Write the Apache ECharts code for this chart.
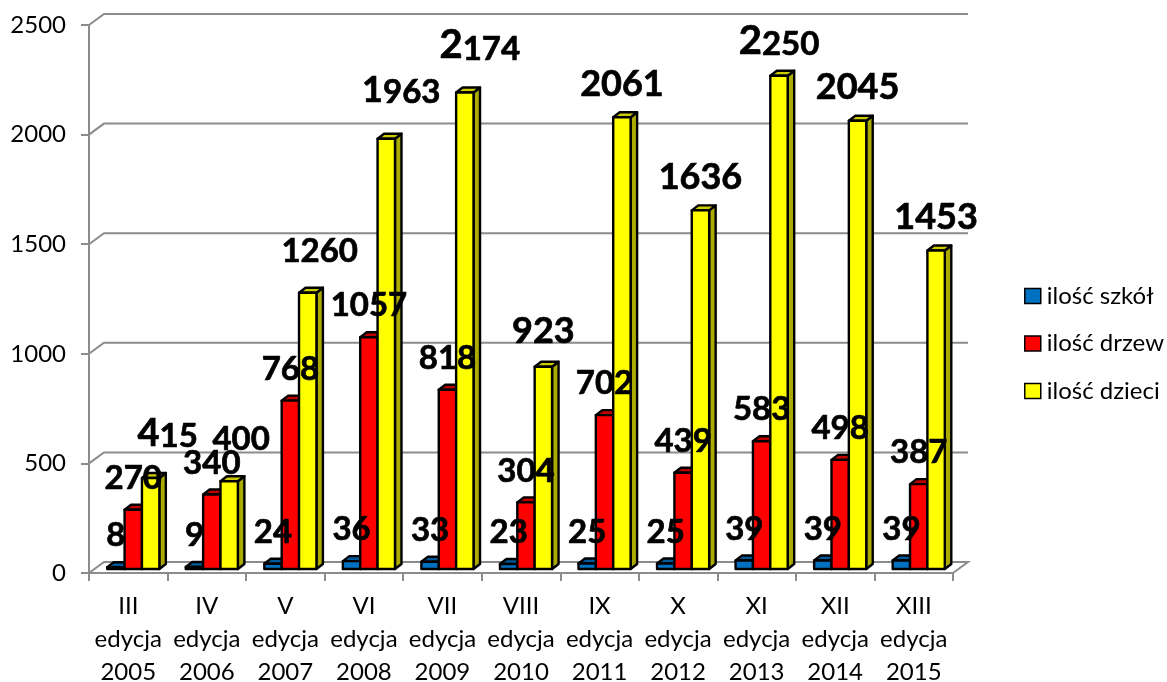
<!DOCTYPE html>
<html>
<head>
<meta charset="utf-8">
<style>html,body{margin:0;padding:0;background:#fff}#c{width:1167px;height:682px}</style>
<script src="https://cdn.jsdelivr.net/npm/echarts@6/dist/echarts.min.js"></script>
</head>
<body>
<div id="c"></div>
<script>
const editions = ['III','IV','V','VI','VII','VIII','IX','X','XI','XII','XIII'];
const years = ['2005','2006','2007','2008','2009','2010','2011','2012','2013','2014','2015'];
const schools = [8,9,24,36,33,23,25,25,39,39,39];
const trees = [270,340,768,1057,818,304,702,439,583,498,387];
const children = [415,400,1260,1963,2174,923,2061,1636,2250,2045,1453];
const yTicks = [0,500,1000,1500,2000,2500];
// label placement tweaks for the tallest series, in px from the default spot
const childLabelShiftX = [17,12,12,15,15,0,0,0,0,0,0];
const childLabelShiftY = [-10,-10,-10,-15,-12,-2,0,0,0,0,0];
// label sizes for the tallest series, and first digits drawn larger in the original
const childLabelSize = [33,33,33,33,33,36,36,36,33,36,36];
const childLabelLead = [38,0,0,36,40,0,0,0,40,0,0];

const FONT = 'Lato, Carlito, "Noto Sans", sans-serif';
const categories = editions.map((e,i)=>e+'\nedycja\n'+years[i]);
const GRAY = '#8c8c8c';
const DX = 6.5, DY = 5;      // bar depth
const WALLX = 15, WALLY = 11; // wall depth
const BAR_BASE = -4;         // bars stand mid-floor

function shade(points, fill){
  return {type:'polygon', shape:{points}, z2:5,
    style:{fill, stroke:'#000', lineWidth:2.4, lineJoin:'round'}};
}
function barSeries(name, values, slot, front, top, side, shiftX, shiftY, sizes, lead){
  return {
    name, type:'custom', coordinateSystem:'cartesian2d',
    itemStyle:{color:front, borderColor:'#000', borderWidth:1.5},
    data: values.map((v,i)=>[i,v]),
    encode:{x:0,y:1},
    renderItem(params, api){
      const i = api.value(0), v = api.value(1);
      const band = api.size([1,0])[0];
      const w = band*0.2215;
      const p = api.coord([i,v]), o = api.coord([i,0]);
      const x0 = p[0]+slot*band, x1 = x0+w;
      const yT = p[1]+BAR_BASE, yB = o[1]+BAR_BASE;
      const sx = shiftX? shiftX[i]:0, sy = shiftY? shiftY[i]:0;
      const size = sizes? sizes[i]:33;
      const big = lead? lead[i]:0;
      const s = String(v);
      const text = big ? '{b|'+s[0]+'}{n|'+s.slice(1)+'}' : '{n|'+s+'}';
      const base = {fontFamily:FONT, fontWeight:'bold', fill:'#000', verticalAlign:'bottom',
        stroke:'#000', lineWidth:0.7};
      return {type:'group', children:[
        shade([[x1,yB],[x1+DX,yB-DY],[x1+DX,yT-DY],[x1,yT]], side),
        shade([[x0,yT],[x0+DX,yT-DY],[x1+DX,yT-DY],[x1,yT]], top),
        shade([[x0,yB],[x1,yB],[x1,yT],[x0,yT]], front),
        {type:'text', z2:50, style:{
          text, x:(x0+x1)/2+sx, y:yT-37+sy, align:'center', verticalAlign:'middle',
          rich:{n:Object.assign({fontSize:size,lineHeight:44},base),
                b:Object.assign({fontSize:big||size,lineHeight:44},base)}
        }}
      ]};
    }
  };
}
const walls = {
  type:'custom', coordinateSystem:'cartesian2d', silent:true, z:1,
  data: yTicks.map(v=>[0,v]), encode:{x:0,y:1},
  renderItem(params, api){
    const c = params.coordSys, y = api.coord([0,api.value(1)])[1];
    const pts = api.value(1)===0
      ? [[c.x,y],[c.x+WALLX,y-WALLY],[c.x+c.width+WALLX,y-WALLY],[c.x+c.width,y]]
      : [[c.x,y],[c.x+WALLX,y-WALLY],[c.x+c.width+WALLX,y-WALLY]];
    return {type:'polyline', shape:{points:pts}, style:{fill:null, stroke:GRAY, lineWidth:2}};
  }
};
const chart = echarts.init(document.getElementById('c'), null, {renderer:'canvas'});
chart.setOption({
  animation:false,
  backgroundColor:'#fff',
  textStyle:{fontFamily:FONT},
  grid:{left:89, top:25, width:864, height:548, containLabel:false, outerBoundsMode:'none'},
  legend:{
    orient:'vertical', left:1024, top:284, padding:0, itemWidth:16, itemHeight:15, itemGap:23.5, icon:'rect',
    itemStyle:{borderColor:'#000', borderWidth:1.5},
    textStyle:{fontFamily:FONT, fontSize:24, color:'#000', padding:[0,0,0,1]},
    data:['ilość szkół','ilość drzew','ilość dzieci']
  },
  xAxis:{
    type:'category', data:categories,
    axisLine:{lineStyle:{color:GRAY,width:2}},
    axisTick:{show:true, alignWithLabel:false, length:8, lineStyle:{color:GRAY,width:2}},
    axisLabel:{color:'#000', fontFamily:FONT, fontSize:24, lineHeight:33, margin:17, interval:0}
  },
  yAxis:{
    type:'value', min:0, max:2500, interval:500,
    axisLine:{show:true, lineStyle:{color:GRAY,width:2}},
    axisTick:{show:true, length:8, lineStyle:{color:GRAY,width:2}},
    splitLine:{show:false},
    axisLabel:{color:'#000', fontFamily:FONT, fontSize:24, margin:23, padding:[3,0,0,0], formatter:v=>String(v)}
  },
  series:[
    walls,
    barSeries('ilość szkół', schools, -0.268, '#0070C0', '#005A9A', '#004C80'),
    barSeries('ilość drzew', trees, -0.047, '#FF0000', '#C00000', '#A80000'),
    barSeries('ilość dzieci', children, 0.174, '#FFFF00', '#CCCC00', '#AAAA00', childLabelShiftX, childLabelShiftY, childLabelSize, childLabelLead)
  ]
});
</script>
</body>
</html>
